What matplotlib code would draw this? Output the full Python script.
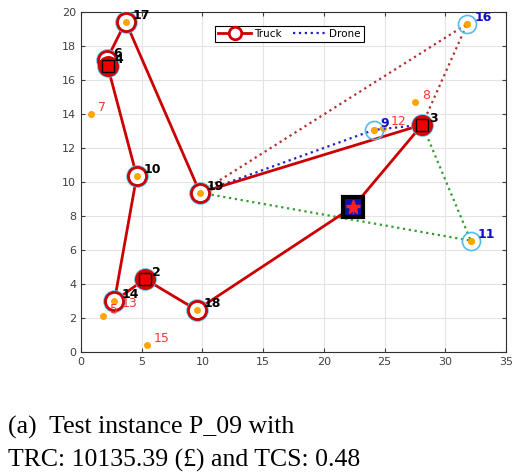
import matplotlib
matplotlib.use("Agg")
import matplotlib.pyplot as plt
from matplotlib.lines import Line2D

# node data (node 1 is the depot)
node_id = [1, 2, 3, 4, 5, 6, 7, 8, 9, 10, 11, 12, 13, 14, 15, 16, 17, 18, 19]
node_x = [22.43, 5.27, 28.1, 2.2, 1.84, 2.12, 0.8, 27.5, 24.1, 4.59, 32.1,
          24.9, 2.75, 2.75, 5.41, 31.8, 3.68, 9.53, 9.8]
node_y = [8.55, 4.29, 13.37, 16.8, 2.12, 17.2, 13.98, 14.7, 13.06, 10.35, 6.55,
          13.2, 2.45, 3.0, 0.39, 19.3, 19.43, 2.47, 9.37]

truck_route = [1, 3, 19, 17, 6, 4, 10, 14, 2, 18, 1]
square_nodes = [4, 2, 3]
drone_sorties = [[19, 16, 3], [19, 9, 3], [19, 11, 3]]
drone_colors = ['#b03030', '#2020c0', '#2e9e2e']
drone_nodes = [16, 9, 11]

caption = ["(a)  Test instance P_09 with", "TRC: 10135.39 (\u00a3) and TCS: 0.48"]

pos = {n: (x, y) for n, x, y in zip(node_id, node_x, node_y)}
truck_nodes = [n for n in truck_route if n != 1]

fig = plt.figure(figsize=(5.16, 4.73), dpi=100)
ax = fig.add_axes([81 / 516, 1 - 352 / 473, 425 / 516, 340 / 473])

RED = '#cc0000'

# all customers: orange dots
for n in node_id[1:]:
    ax.plot(*pos[n], 'o', ms=4, color='#ffa500', mec='#ffa500', zorder=2)

# drone sorties
for sortie, c in zip(drone_sorties, drone_colors):
    ax.plot([pos[n][0] for n in sortie], [pos[n][1] for n in sortie],
            ls=':', lw=1.6, color=c, zorder=3)

# truck route
ax.plot([pos[n][0] for n in truck_route], [pos[n][1] for n in truck_route],
        '-', lw=2, color=RED, zorder=4)

# drone customer rings
for n in drone_nodes:
    ax.plot(*pos[n], 'o', ms=13, mfc='none', mec='#55bbee', mew=1.2, zorder=5)
    ax.plot(*pos[n], 'o', ms=4, color='#ffa500', zorder=6)

# truck customers
for n in truck_nodes:
    ax.plot(*pos[n], 'o', ms=13, mfc='white', mec='#55bbee', mew=3.2, zorder=5)
    ax.plot(*pos[n], 'o', ms=13, mfc='white', mec=RED, mew=2, zorder=6)
    ax.plot(*pos[n], 'o', ms=4, color='#ffa500', zorder=7)
for n in square_nodes:
    ax.plot(*pos[n], 'o', ms=13, color='#dd0000', zorder=7)
    ax.plot(*pos[n], 's', ms=9, mfc='#ee0000', mec='black', mew=1, zorder=8)

# depot
ax.plot(*pos[1], 's', ms=14, mfc='#1010b0', mec='black', mew=3, zorder=9)
ax.plot(*pos[1], '*', ms=10, color='#ff2020', mew=1, zorder=10)
ax.plot(*pos[1], '+', ms=10, color='#ff2020', mew=1, zorder=10)

# node labels
for n in node_id[1:]:
    if n in truck_nodes:
        kw = dict(color='black', fontweight='bold')
    elif n in drone_nodes:
        kw = dict(color='#1010c0', fontweight='bold')
    else:
        kw = dict(color='#ff3333')
    ax.annotate(str(n), pos[n], xytext=(5, 0), textcoords='offset points',
                ha='left', va='bottom', fontsize=9, zorder=11, **kw)

ax.set_xlim(0, 35)
ax.set_ylim(0, 20)
ax.set_xticks(range(0, 36, 5))
ax.set_yticks(range(0, 21, 2))
ax.grid(True, color='#e3e3e3', lw=0.8)
ax.set_axisbelow(True)
ax.tick_params(direction='in', top=True, right=True, labelsize=8,
               labelcolor='#404040', color='#404040', length=3)
for s in ax.spines.values():
    s.set_color('#303030')
    s.set_linewidth(0.8)

handles = [
    Line2D([], [], color=RED, lw=2, marker='o', ms=9, mfc='white', mec=RED, mew=2),
    Line2D([], [], color='#2020c0', lw=1.6, ls=':'),
]
leg = ax.legend(handles, ['Truck', 'Drone'], loc='upper center', ncol=2,
                bbox_to_anchor=(0.49, 0.975), fontsize=7.5, fancybox=False,
                edgecolor='black', framealpha=1, borderpad=0.3,
                handlelength=3.2, columnspacing=1.0, handletextpad=0.3)
leg.get_frame().set_linewidth(0.8)

fig.text(8 / 516, 1 - 434 / 473, caption[0], fontsize=18.5,
         family='Liberation Serif', ha='left', va='baseline')
fig.text(8 / 516, 1 - 467 / 473, caption[1], fontsize=18.5,
         family='Liberation Serif', ha='left', va='baseline')

fig.savefig('out.png', dpi=100)
